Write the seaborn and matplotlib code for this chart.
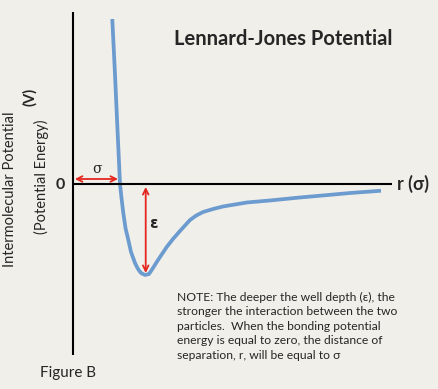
import numpy as np
import pandas as pd
import matplotlib
matplotlib.use('Agg')
import matplotlib.pyplot as plt
import seaborn as sns

# кривая потенциала (r в единицах sigma, V в единицах epsilon)
r_vals = [0.836, 0.894, 0.947, 1.000, 1.032, 1.070, 1.117, 1.177, 1.234, 1.319,
          1.383, 1.447, 1.532, 1.617, 1.702, 1.809, 1.994, 2.128, 2.277, 2.489,
          2.617, 2.766, 2.979, 3.191, 3.702, 4.191, 4.830, 5.362, 5.894, 6.553]
v_vals = [1.813, 1.198, 0.593, 0.000, -0.154, -0.319, -0.484, -0.615, -0.747, -0.868,
          -0.934, -0.978, -1.000, -0.989, -0.923, -0.835, -0.692, -0.604, -0.516, -0.396,
          -0.348, -0.308, -0.275, -0.247, -0.203, -0.181, -0.148, -0.124, -0.099, -0.074]

sigma_r = 0.957     # конец стрелки sigma
r_min = 1.547       # положение стрелки epsilon
v_min = -0.978

title = 'Lennard-Jones Potential'
ylabel1 = 'Intermolecular Potential'
ylabel2 = '(Potential Energy)'
note = ('NOTE: The deeper the well depth (\u03b5), the\n'
        'stronger the interaction between the two\n'
        'particles.  When the bonding potential\n'
        'energy is equal to zero, the distance of\n'
        'separation, r, will be equal to \u03c3')

bg = '#F1EFE9'
sns.set_style('white', {'axes.facecolor': bg, 'figure.facecolor': bg})
plt.rcParams['font.family'] = ['Lato', 'DejaVu Sans']

W, H = 438, 389
fig = plt.figure(figsize=(W / 100, H / 100), dpi=100)
ax = fig.add_axes([0, 0, 1, 1])

df = pd.DataFrame({'r': r_vals, 'V': v_vals})
sns.lineplot(data=df, x='r', y='V', sort=False, ax=ax, color='#6C9BD0', lw=2.7,
             solid_capstyle='butt', solid_joinstyle='round')

# оси вручную
ax.plot([0, 0], [1.89, -1.879], color='black', lw=1.5, solid_capstyle='butt')
ax.plot([0, 6.787], [0, 0], color='black', lw=1.5, solid_capstyle='butt')

red = '#E3261F'
ax.annotate('', xy=(0.04, 0.055), xytext=(sigma_r, 0.055),
            arrowprops=dict(arrowstyle='<->', color=red, lw=1.3, shrinkA=0, shrinkB=0))
ax.annotate('', xy=(r_min, -0.033), xytext=(r_min, v_min),
            arrowprops=dict(arrowstyle='<->', color=red, lw=1.3, shrinkA=0, shrinkB=0))
ax.text(0.51, 0.17, '\u03c3', family='DejaVu Serif', fontsize=10, ha='center', va='center')
ax.text(1.72, -0.43, '\u03b5', family='DejaVu Sans', fontsize=11, fontweight='bold',
        ha='center', va='center')

ax.set_xlim(-73 / 47, 365 / 47)
ax.set_ylim(-205 / 91, 184 / 91)
ax.axis('off')

def fx(px):
    return px / W

def fy(py):
    return 1 - py / H

fig.text(fx(283), fy(39), title, fontsize=14.5, fontweight='bold', ha='center', va='center')
fig.text(fx(60), fy(185), '0', fontsize=11.5, fontweight='bold', ha='center', va='center')
fig.text(fx(397), fy(184), 'r (\u03c3)', fontsize=13, fontweight='bold', ha='left', va='center')
fig.text(fx(10), fy(189), ylabel1, fontsize=10.5, rotation=90, ha='center', va='center')
fig.text(fx(41), fy(177), ylabel2, fontsize=10.5, rotation=90, ha='center', va='center')
fig.text(fx(30), fy(97), '(V)', fontsize=10.5, fontweight='bold', rotation=90, ha='center', va='center')
fig.text(fx(40), fy(373), 'Figure B', fontsize=11, ha='left', va='center')
fig.text(fx(177), fy(292), note, fontsize=8.7, ha='left', va='top', linespacing=1.38)

fig.savefig('out.png', dpi=100, facecolor=bg)
